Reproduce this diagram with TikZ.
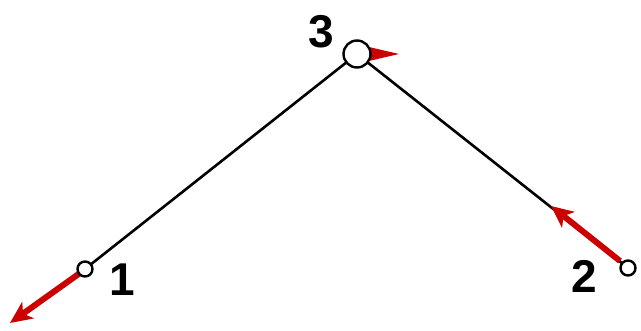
\documentclass[tikz,border=0pt]{standalone}
\usepackage{fontspec}
\setmainfont{Liberation Sans}
\usetikzlibrary{arrows.meta}
\definecolor{forcered}{RGB}{204,0,0}
\begin{document}
\begin{tikzpicture}[x=1pt,y=-1pt,
  joint/.style={circle,draw=black,line width=2.4pt,fill=white,inner sep=0pt},
  lbl/.style={font=\fontsize{46}{46}\selectfont,inner sep=0pt},
  bar/.style={line width=2.6pt,black},
  force/.style={draw=forcered,line width=6pt,-{Stealth[length=22pt,width=20pt,inset=6pt]}}]
\useasboundingbox (0,0) rectangle (641,331);
\coordinate (p1) at (85,269);
\coordinate (p2) at (628,268);
\coordinate (p3) at (357,54);
\draw[bar] (p1) -- (p3) -- (p2);
\draw[force] (80,273) -- (10,323);
\draw[force] (620,261) -- (551,206);
\fill[forcered] (369,47) -- (399,54) -- (369,61) -- cycle;
\node[joint,minimum size=15pt] (n1) at (p1) {};
\node[joint,minimum size=15pt] (n2) at (p2) {};
\node[joint,minimum size=27pt] (n3) at (p3) {};
\node[lbl] (l1) at (122,280) {\textbf{1}};
\node[lbl] (l2) at (584,276) {\textbf{2}};
\node[lbl] (l3) at (321,32) {\textbf{3}};
\end{tikzpicture}
\end{document}
